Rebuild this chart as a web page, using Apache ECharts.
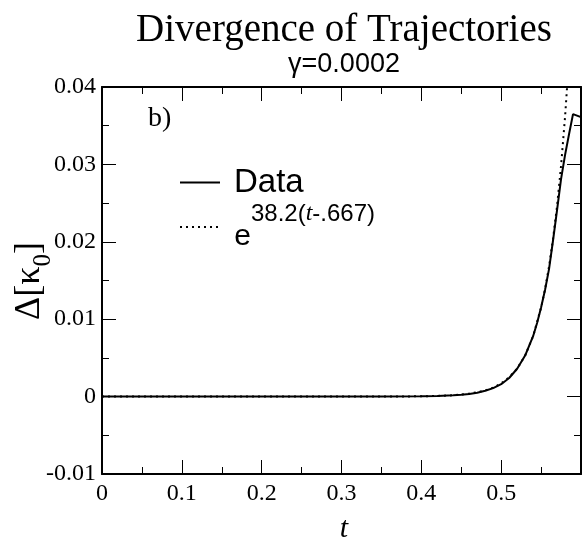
<!DOCTYPE html>
<html><head><meta charset="utf-8">
<script src="https://cdn.jsdelivr.net/npm/echarts@6/dist/echarts.min.js"></script>
<style>html,body{margin:0;padding:0;background:#fff}#c{width:584px;height:539px}</style>
</head><body><div id="c"></div>
<script>
// ---- data ----
const dataT = [0, 0.05, 0.1, 0.15, 0.2, 0.25, 0.3, 0.35, 0.4, 0.42, 0.44, 0.45, 0.46, 0.47, 0.48, 0.49, 0.5, 0.51, 0.52, 0.53, 0.54, 0.545, 0.55, 0.555, 0.56, 0.565, 0.57, 0.575, 0.58, 0.585, 0.59, 0.6];
const dataV = [0, 0, 0, 0, 0, 0, 0, 0.00001, 0.00004, 0.00008, 0.00016, 0.00024, 0.00034, 0.0005, 0.00075, 0.0011, 0.0016, 0.0024, 0.0036, 0.0053, 0.0078, 0.0095, 0.0115, 0.0138, 0.0165, 0.0202, 0.0241, 0.0281, 0.0312, 0.0339, 0.0365, 0.0361];
const fitT = [0, 0.1, 0.2, 0.3, 0.35, 0.4, 0.42, 0.44, 0.46, 0.48, 0.49, 0.5, 0.51, 0.52, 0.53, 0.54, 0.55, 0.555, 0.56, 0.565, 0.57, 0.575, 0.58, 0.585];
const fitV = [0, 0, 0, 0.000001, 0.0000055, 0.000037, 0.00008, 0.00017, 0.00037, 0.00079, 0.00116, 0.0017, 0.0025, 0.0036, 0.0053, 0.0078, 0.0115, 0.0139, 0.0168, 0.0204, 0.0246, 0.0298, 0.0361, 0.0437];
const xTickLabels = ['0', '0.1', '0.2', '0.3', '0.4', '0.5', ''];
const yTickLabels = ['-0.01', '0', '0.01', '0.02', '0.03', '0.04'];
const seriesNames = ['Data', 'fit'];

const SERIF = '"Liberation Serif", "Times New Roman", serif';
const SANS = '"Liberation Sans", Arial, sans-serif';

const zip = (a, b) => a.map((v, i) => [v, b[i]]);

const axisLineStyle = { show: true, onZero: false, lineStyle: { color: '#000', width: 2 } };
const tick = { show: true, inside: true, length: 14, lineStyle: { color: '#000', width: 1 } };
const minor = { show: true, splitNumber: 2, length: 7, lineStyle: { color: '#000', width: 1 } };

function xAx(pos, labels) {
  return {
    type: 'value', position: pos, min: 0, max: 0.6, interval: 0.1,
    axisLine: axisLineStyle, axisTick: tick, minorTick: minor,
    splitLine: { show: false }, minorSplitLine: { show: false },
    axisLabel: labels ? {
      show: true, margin: 7.5, color: '#000', fontFamily: SERIF, fontSize: 24,
      formatter: (v) => xTickLabels[Math.round(v / 0.1)]
    } : { show: false }
  };
}
function yAx(pos, labels) {
  return {
    type: 'value', position: pos, min: -0.01, max: 0.04, interval: 0.01,
    axisLine: axisLineStyle, axisTick: tick, minorTick: minor,
    splitLine: { show: false }, minorSplitLine: { show: false },
    axisLabel: labels ? {
      show: true, margin: 6, color: '#000', fontFamily: SERIF, fontSize: 24,
      formatter: (v) => yTickLabels[Math.round((v + 0.01) / 0.01)]
    } : { show: false }
  };
}

const chart = echarts.init(document.getElementById('c'), null, { renderer: 'canvas' });
chart.setOption({
  animation: false,
  backgroundColor: '#fff',
  title: [
    { text: 'Divergence of Trajectories', left: 344, top: 11, padding: 0, textAlign: 'center',
      textStyle: { fontFamily: SERIF, fontSize: 39, fontWeight: 'normal', color: '#000', lineHeight: 39 } },
    { text: 'γ=0.0002', left: 344, top: 51, padding: 0, textAlign: 'center',
      textStyle: { fontFamily: SANS, fontSize: 27, fontWeight: 'normal', color: '#000', lineHeight: 27 } }
  ],
  grid: { left: 102, top: 87, width: 484, height: 387, containLabel: false },
  xAxis: [xAx('bottom', true), xAx('top', false)],
  yAxis: [yAx('left', true), yAx('right', false)],
  legend: {
    orient: 'vertical', left: 179, top: 166, itemWidth: 40, itemHeight: 14, itemGap: 3,
    selectedMode: false, padding: 0,
    itemStyle: { opacity: 0, color: 'rgba(0,0,0,0)', borderColor: 'rgba(0,0,0,0)', borderWidth: 0 },
    data: seriesNames,
    formatter: (name) => name === 'Data' ? '{d|Data}' : '{sp| }{e|e}{s|38.2(}{i|t}{s|-.667)}',
    textStyle: {
      color: '#000',
      rich: {
        d: { fontFamily: SANS, fontSize: 33, lineHeight: 33, padding: [0, 0, 0, 9], color: '#000' },
        sp: { fontFamily: SANS, fontSize: 1, lineHeight: 50, padding: [0, 0, 0, 9], color: '#000' },
        e: { fontFamily: SANS, fontSize: 30, lineHeight: 20, verticalAlign: 'bottom', color: '#000' },
        s: { fontFamily: SANS, fontSize: 24, lineHeight: 28, verticalAlign: 'top', color: '#000' },
        i: { fontFamily: SERIF, fontStyle: 'italic', fontSize: 24, lineHeight: 28, verticalAlign: 'top', color: '#000' }
      }
    }
  },
  graphic: [
    { type: 'text', x: 148, y: 118.3, style: { text: 'b)', fontFamily: SERIF, fontSize: 28, fill: '#000', align: 'left', verticalAlign: 'middle', textAlign: 'left', textVerticalAlign: 'middle' } },
    { type: 'text', x: 344, y: 529, style: { text: 't', fontFamily: SERIF, fontStyle: 'italic', fontSize: 30, fill: '#000', align: 'center', verticalAlign: 'middle', textAlign: 'center', textVerticalAlign: 'middle' } },
    { type: 'text', x: 30, y: 281, rotation: Math.PI / 2,
      style: { text: '{a|Δ[κ}{s|0}{a|]}', fill: '#000', align: 'center', verticalAlign: 'middle', textAlign: 'center', textVerticalAlign: 'middle',
        rich: {
          a: { fontFamily: SERIF, fontSize: 36, lineHeight: 36, verticalAlign: 'top', fill: '#000' },
          s: { fontFamily: SERIF, fontSize: 25, lineHeight: 25, padding: [19, 0, 0, 0], verticalAlign: 'top', fill: '#000' }
        } } }
  ],
  series: [
    { name: seriesNames[0], type: 'line', xAxisIndex: 0, yAxisIndex: 0, data: zip(dataT, dataV), showSymbol: false, symbol: 'none',
      lineStyle: { color: '#000', width: 2 }, itemStyle: { color: '#000' }, clip: true, z: 3 },
    { name: seriesNames[1], type: 'line', xAxisIndex: 0, yAxisIndex: 0, data: zip(fitT, fitV), showSymbol: false, symbol: 'none',
      lineStyle: { color: '#000', width: 2, type: [2, 4] }, itemStyle: { color: '#000' }, clip: true, z: 2 }
  ]
});
</script></body></html>
